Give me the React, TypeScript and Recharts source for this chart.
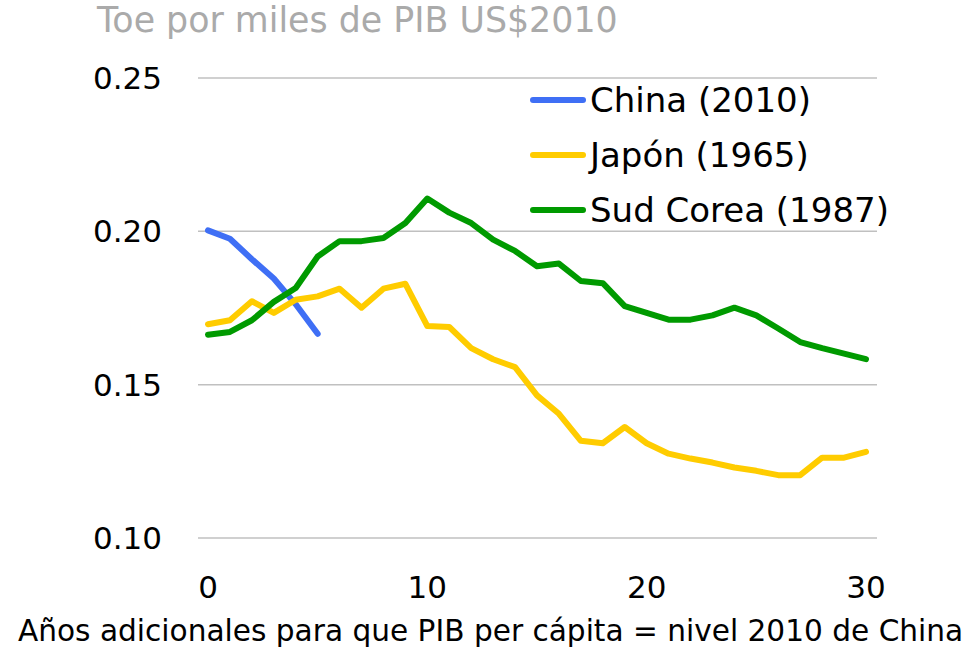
import { LineChart, Line, XAxis, YAxis, CartesianGrid } from "recharts";

const years = [
  0, 1, 2, 3, 4, 5, 6, 7, 8, 9, 10, 11, 12, 13, 14, 15, 16, 17, 18, 19, 20, 21, 22, 23, 24, 25, 26, 27, 28, 29, 30,
];
const china = [0.2003, 0.1976, 0.1909, 0.1846, 0.1762, 0.1666];
const japon = [
  0.1697, 0.171, 0.1772, 0.1734, 0.1777, 0.1788, 0.1813, 0.1751, 0.1813, 0.1829, 0.1691, 0.1688, 0.1619, 0.1583,
  0.1557, 0.1465, 0.1405, 0.1317, 0.1309, 0.1362, 0.1309, 0.1275, 0.1259, 0.1246, 0.123, 0.1219, 0.1205, 0.1205,
  0.1262, 0.1262, 0.1281,
];
const corea = [
  0.1663, 0.1672, 0.171, 0.177, 0.1815, 0.1918, 0.1968, 0.1968, 0.1978, 0.2027, 0.2107, 0.2061, 0.2027, 0.1973,
  0.1936, 0.1886, 0.1895, 0.1838, 0.1831, 0.1756, 0.1734, 0.1712, 0.1712, 0.1726, 0.1751, 0.1726, 0.1683, 0.1639,
  0.1619, 0.1601, 0.1583,
];
const yTicks = [0.1, 0.15, 0.2, 0.25];
const xTicks = [0, 10, 20, 30];

const series = [
  { key: "china", name: "China (2010)", color: "#3f6ff5" },
  { key: "japon", name: "Japón (1965)", color: "#ffcc00" },
  { key: "corea", name: "Sud Corea (1987)", color: "#009a00" },
];

const data = years.map((x, i) => ({
  x,
  china: i < china.length ? china[i] : null,
  japon: japon[i],
  corea: corea[i],
}));

const FONT = "'DejaVu Sans', sans-serif";

export default function App() {
  return (
    <div style={{ position: "absolute", left: 0, top: 0, width: 972, height: 653, background: "#fff" }}>
      <div
        style={{
          position: "absolute",
          left: 97,
          top: 0,
          fontFamily: FONT,
          fontSize: 34.8,
          color: "#aaaaaa",
          whiteSpace: "nowrap",
        }}
      >
        Toe por miles de PIB US$2010
      </div>
      <LineChart width={972} height={653} data={data} margin={{ top: 78, right: 95, left: 0, bottom: 55 }}>
        <CartesianGrid horizontal vertical={false} stroke="#c0c0c0" strokeWidth={1.5} />
        <XAxis
          dataKey="x"
          type="number"
          domain={[0, 30]}
          ticks={xTicks}
          axisLine={false}
          tickLine={false}
          tickSize={0}
          tickMargin={38}
          height={60}
          padding={{ left: 10, right: 11 }}
          tick={{ fill: "#000", fontSize: 31, fontFamily: FONT }}
        />
        <YAxis
          type="number"
          domain={[0.1, 0.25]}
          ticks={yTicks}
          width={198}
          axisLine={false}
          tickLine={false}
          tickSize={0}
          tickMargin={36}
          tickFormatter={(v: number) => v.toFixed(2)}
          tick={{ fill: "#000", fontSize: 31, fontFamily: FONT }}
        />
        {series.map((s) => (
          <Line
            key={s.key}
            dataKey={s.key}
            name={s.name}
            stroke={s.color}
            strokeWidth={6}
            strokeLinejoin="round"
            strokeLinecap="round"
            dot={false}
            isAnimationActive={false}
          />
        ))}
      </LineChart>
      <div
        style={{
          position: "absolute",
          left: 530,
          top: 72,
          fontFamily: FONT,
          fontSize: 34,
          color: "#000",
        }}
      >
        {series.map((s) => (
          <div key={s.key} style={{ display: "flex", alignItems: "center", height: 55, whiteSpace: "nowrap" }}>
            <div style={{ width: 56, height: 6, borderRadius: 3, background: s.color, marginRight: 4 }} />
            <span>{s.name}</span>
          </div>
        ))}
      </div>
      <div
        style={{
          position: "absolute",
          left: 18,
          top: 614,
          fontFamily: FONT,
          fontSize: 29.6,
          color: "#000",
          whiteSpace: "nowrap",
        }}
      >
        Años adicionales para que PIB per cápita = nivel 2010 de China
      </div>
    </div>
  );
}
